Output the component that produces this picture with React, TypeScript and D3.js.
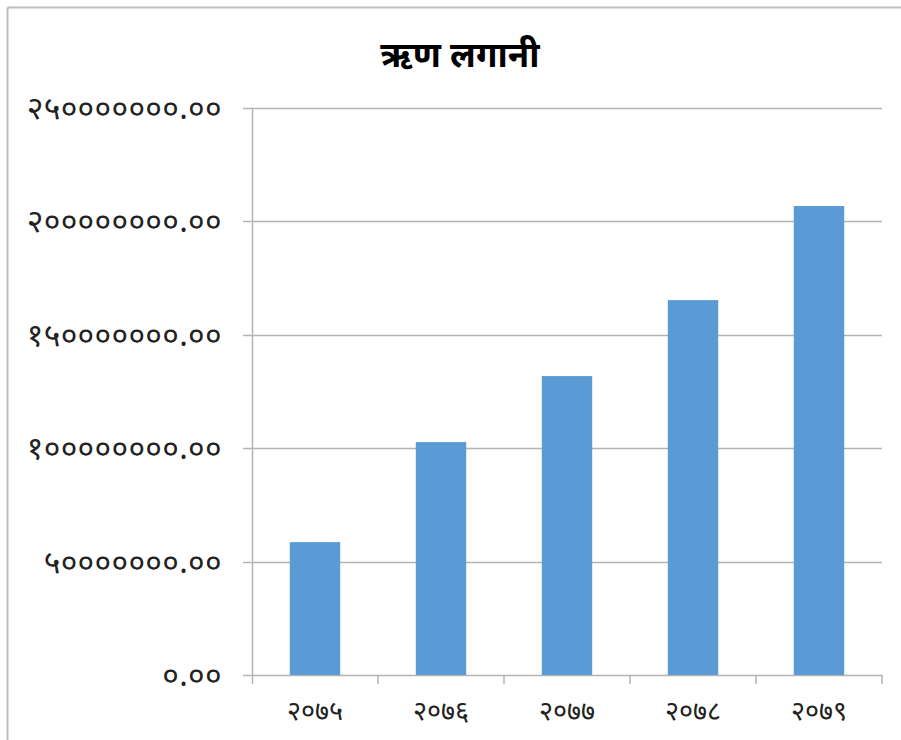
import React from "react";
import * as d3 from "d3";

const title = "ऋण लगानी";
const categories = ["२०७५", "२०७६", "२०७७", "२०७८", "२०७९"];
const values = [58600000, 102700000, 131800000, 165300000, 206800000];
const yTicks = [0, 50000000, 100000000, 150000000, 200000000, 250000000];

const devDigits = ["०", "१", "२", "३", "४", "५", "६", "७", "८", "९"];
const toDev = (s: string) => s.replace(/[0-9]/g, (d) => devDigits[+d]);

export default function App() {
  const W = 901;
  const H = 740;
  const left = 252;
  const right = 882;
  const top = 108;
  const bottom = 675;

  const x = d3.scaleBand<string>().domain(categories).range([left, right]).paddingInner(0.6).paddingOuter(0.3);
  const xb = d3.scaleBand<string>().domain(categories).range([left, right]);
  const y = d3.scaleLinear().domain([0, 250000000]).range([bottom, top]);

  const font = "'Noto Sans', 'DejaVu Sans', sans-serif";

  return (
    <svg width={W} height={H} style={{ position: "absolute", left: 0, top: 0, display: "block" }}>
      <rect x={0} y={0} width={W} height={H} fill="#fff" />
      <line x1={7.5} y1={7.5} x2={W} y2={7.5} stroke="#bdbdbd" strokeWidth={2} />
      <line x1={7.5} y1={7.5} x2={7.5} y2={H} stroke="#bdbdbd" strokeWidth={2} />
      <text x={460} y={67} textAnchor="middle" fontFamily={font} fontWeight="bold" fontSize={35} fill="#000">
        {title}
      </text>
      {yTicks.map((t) => (
        <g key={t}>
          <line x1={left - 9} x2={right} y1={Math.round(y(t)) + 0.5} y2={Math.round(y(t)) + 0.5} stroke="#b4b4b4" strokeWidth={1.5} />
          <text x={222} y={y(t) + 11} textAnchor="end" fontFamily={font} fontSize={32} letterSpacing={0.3} fill="#222">
            {toDev(d3.format(".2f")(t))}
          </text>
        </g>
      ))}
      <line x1={left + 0.5} x2={left + 0.5} y1={top} y2={bottom + 9} stroke="#b4b4b4" strokeWidth={1.5} />
      {categories.map((c, i) => (
        <g key={c}>
          <rect x={x(c)} y={y(values[i])} width={x.bandwidth()} height={bottom - y(values[i])} fill="#5b9bd5" />
          <line x1={(xb(c) as number) + xb.bandwidth()} x2={(xb(c) as number) + xb.bandwidth()} y1={bottom} y2={bottom + 9} stroke="#b4b4b4" strokeWidth={1.5} />
          <text x={(xb(c) as number) + xb.bandwidth() / 2} y={720} textAnchor="middle" fontFamily={font} fontSize={27} fill="#222">
            {c}
          </text>
        </g>
      ))}
    </svg>
  );
}
